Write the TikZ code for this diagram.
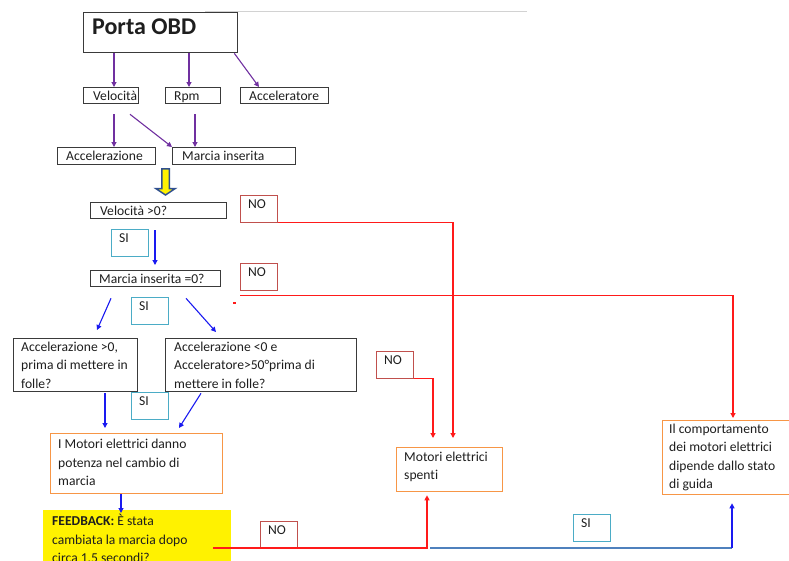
\documentclass[tikz,border=0pt]{standalone}
\usepackage{fontspec}
\setmainfont{Carlito}[Ligatures=NoCommon]
\usetikzlibrary{arrows.meta}
\definecolor{purp}{HTML}{7030A0}
\definecolor{arrblue}{HTML}{1A1AF0}
\definecolor{lineblue}{HTML}{4F81BD}
\definecolor{noborder}{HTML}{C0504D}
\definecolor{siborder}{HTML}{4BACC6}
\definecolor{orangeb}{HTML}{F79646}
\definecolor{boxgray}{HTML}{3A3A3A}
\definecolor{navy}{HTML}{2F4F8F}
\definecolor{txt}{HTML}{1E1E1E}
\definecolor{redline}{HTML}{FF1A1A}
\begin{document}
\begin{tikzpicture}[x=1pt,y=-1pt,
  font=\fontsize{13.6}{18.5}\selectfont,
  every node/.style={text=txt},
  lab/.style={anchor=west, inner sep=0pt, xshift=9pt, align=left},
  lab1/.style={anchor=base west, inner sep=0pt, xshift=9pt, yshift=-4.4pt},
  tbox/.style={draw=boxgray, line width=1.3pt, anchor=north west, inner sep=0pt},
  obox/.style={draw=orangeb, line width=1.3pt, anchor=north west, inner sep=0pt, fill=white},
  tag/.style={anchor=north west, inner sep=0pt, minimum width=37pt, minimum height=27pt, line width=0.9pt},
  tagtext/.style={anchor=north west, inner sep=0pt, xshift=8pt, yshift=-4.5pt},
  nobox/.style={tag, draw=noborder, label={[tagtext]north west:NO}},
  sibox/.style={tag, draw=siborder, label={[tagtext]north west:SI}},
  tip/.style={-{Triangle[length=5pt,width=5pt]}},
  parrow/.style={draw=purp, line width=1.1pt, tip},
  barrow/.style={draw=arrblue, line width=1.1pt, tip},
  rline/.style={draw=redline, line width=1.1pt},
  rarrow/.style={rline, tip},
]
\useasboundingbox (0,0) rectangle (789,560);

% faint rule under the page heading
\draw[gray!35, line width=0.8pt] (205,11) -- (527,11);

% data read from the OBD port
\node[tbox, minimum width=154pt, minimum height=40pt,
  label={[anchor=base west, inner sep=0pt, xshift=9pt, yshift=-22.5pt,
          font=\fontsize{24}{28}\selectfont\bfseries]north west:Porta OBD}] (porta) at (83,12) {};
\node[tbox, minimum width=55pt, minimum height=16pt, label={[lab1, xshift=1pt]west:Velocità}] (velo) at (83,87) {};
\node[tbox, minimum width=55pt, minimum height=16pt, label={[lab1]west:Rpm}] (rpm) at (165,87) {};
\node[tbox, minimum width=88pt, minimum height=16pt, label={[lab1]west:Acceleratore}] (accr) at (240,87) {};
\node[tbox, minimum width=98pt, minimum height=17pt, label={[lab1]west:Accelerazione}] (accz) at (57,147) {};
\node[tbox, minimum width=123pt, minimum height=17pt, label={[lab1, xshift=1pt]west:Marcia inserita}] (marcia) at (172,147) {};

\draw[parrow] ([xshift=31pt]porta.south west) -- ([xshift=31pt]velo.north west);
\draw[parrow] ([xshift=106pt]porta.south west) -- ([xshift=24pt]rpm.north west);
\draw[parrow] ([xshift=-4pt]porta.south east) -- ([xshift=19pt]accr.north west);
\draw[parrow] ([xshift=31pt,yshift=-10pt]velo.south west) -- ([xshift=57pt]accz.north west);
\draw[parrow] ([xshift=47pt,yshift=-10pt]velo.south west) -- (marcia.north west);
\draw[parrow] ([xshift=30pt,yshift=-10pt]rpm.south west) -- ([xshift=23pt]marcia.north west);

% block arrow into the decision chain
\coordinate (bigtop) at (165.5,168.75);
\filldraw[fill=yellow, draw=navy, line width=1.5pt, line join=miter]
  ([xshift=-3.75pt]bigtop) -- ++(0,19.75) -- ++(-6,0) -- ++(9.75,6.5)
  -- ++(9.75,-6.5) -- ++(-6,0) -- ++(0,-19.75) -- cycle;

% decisions
\node[tbox, minimum width=136pt, minimum height=16pt, label={[lab1, xshift=1pt]west:Velocità >0?}] (velgt) at (90,202) {};
\node[tbox, minimum width=130pt, minimum height=16pt, label={[lab1]west:Marcia inserita =0?}] (mzero) at (90,270) {};
\node[tbox, minimum width=124pt, minimum height=53pt,
  label={[lab, xshift=-1pt]west:{Accelerazione >0,\\prima di mettere in\\folle?}}] (accpos) at (13,338) {};
\node[tbox, minimum width=191pt, minimum height=53pt,
  label={[lab]west:{Accelerazione <0 e\\Acceleratore>50°prima di\\mettere in folle?}}] (accneg) at (165,338) {};

% outcomes
\node[obox, minimum width=172pt, minimum height=60pt,
  label={[lab, xshift=-1pt, yshift=1pt]west:{I Motori elettrici danno\\potenza nel cambio di\\marcia}}] (imot) at (50,433) {};
\node[obox, minimum width=106pt, minimum height=44pt,
  label={[lab, xshift=-1pt, yshift=3pt]west:{Motori elettrici\\spenti}}] (spenti) at (396,447) {};
\node[obox, minimum width=135pt, minimum height=74pt,
  label={[lab, xshift=-2pt]west:{Il comportamento\\dei motori elettrici\\dipende dallo stato\\di guida}}] (comp) at (662,420) {};
\node[anchor=north west, inner sep=0pt, fill=yellow, minimum width=188pt, minimum height=60pt,
  label={[anchor=north west, inner sep=0pt, xshift=9pt, yshift=-4pt, align=left]north west:{\textbf{FEEDBACK:} È stata\\cambiata la marcia dopo\\circa 1.5 secondi?}}] (fb) at (43,510) {};

% answer tags
\node[nobox] (no1) at (240,195) {};
\node[nobox] (no2) at (240,263) {};
\node[nobox] (no3) at (376,351) {};
\node[nobox] (no4) at (260,521) {};
\node[sibox] (si1) at (111,229) {};
\node[sibox] (si2) at (131,297) {};
\node[sibox] (si3) at (131,392) {};
\node[sibox] (si4) at (573,514) {};

% "yes" flow
\draw[barrow] ([xshift=65pt,yshift=-11pt]velgt.south west) -- ([xshift=65pt,yshift=5pt]mzero.north west);
\draw[barrow] ([xshift=21pt,yshift=-11pt]mzero.south west) -- ([xshift=84pt,yshift=8pt]accpos.north west);
\draw[barrow] ([xshift=96pt,yshift=-11pt]mzero.south west) -- ([xshift=51pt,yshift=6pt]accneg.north west);
\draw[barrow] ([xshift=92pt,yshift=-1pt]accpos.south west) -- ([xshift=55pt,yshift=5pt]imot.north west);
\draw[barrow] ([xshift=36pt,yshift=-1pt]accneg.south west) -- ([xshift=129pt,yshift=5pt]imot.north west);
\draw[barrow] ([xshift=71pt]imot.south west) -- ([xshift=78pt,yshift=-3pt]fb.north west);

% "no" flow
\draw[rarrow] (no1.south east) -| ([xshift=57pt,yshift=9pt]spenti.north west);
\draw[rarrow] ([yshift=-5pt]no2.south west) -| ([xshift=71pt,yshift=2pt]comp.north west);
\draw[rarrow] (no3.south east) -| ([xshift=37pt,yshift=9pt]spenti.north west);
\draw[rline] (233,303) -- (236,303);

% feedback answer
\coordinate (split) at (430,548);
\coordinate (sicorner) at (732,548);
\draw[rarrow] ([xshift=-18pt,yshift=-38pt]fb.north east) -| ([xshift=31pt,yshift=-3pt]spenti.south west);
\draw[draw=lineblue, line width=1.1pt] (split) -- (sicorner);
\draw[barrow] (sicorner) -- ([xshift=70pt,yshift=-8pt]comp.south west);
\end{tikzpicture}
\end{document}
